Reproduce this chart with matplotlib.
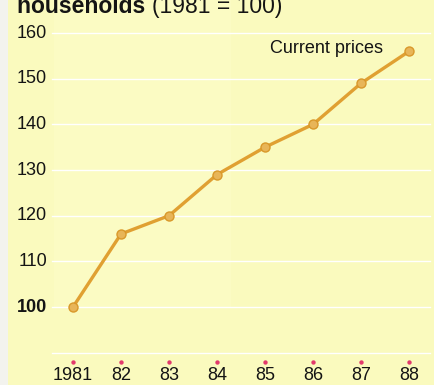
import matplotlib
matplotlib.use("Agg")
import matplotlib.pyplot as plt

# spending index, 1981 = 100
years = [1981, 1982, 1983, 1984, 1985, 1986, 1987, 1988]
year_labels = ["1981", "82", "83", "84", "85", "86", "87", "88"]
index_values = [100, 116, 120, 129, 135, 140, 149, 156]
grid_levels = [90, 100, 110, 120, 130, 140, 150, 160]
tick_labels = ["", "100", "110", "120", "130", "140", "150", "160"]

plt.rcParams["font.family"] = ["Liberation Sans", "DejaVu Sans"]

fig = plt.figure(figsize=(4.35, 3.85), dpi=100, facecolor="#f3f3ee")
ax = fig.add_axes([8 / 435, 0, 427 / 435, 1])
ax.set_facecolor("#fafabe")
ax.set_xlim(1979.646, 1988.54)
ax.set_ylim(82.92, 167.23)
for s in ax.spines.values():
    s.set_visible(False)
ax.set_xticks([])
ax.set_yticks([])

# slightly lighter panel behind the line
ax.axvspan(1980.6, 1984.3, ymin=0.2, ymax=1, color="#fbfbc3", zorder=0, lw=0)

for lv, lab in zip(grid_levels, tick_labels):
    ax.plot([1980.56, 1988.44], [lv, lv], color="white", lw=1.0, zorder=1)
    if lab:
        ax.text(1980.46, lv, lab, ha="right", va="center", fontsize=13,
                fontweight="bold" if lab == "100" else "normal", color="#141414")

ax.plot(years, index_values, color="#e0a032", lw=2.4, marker="o", ms=6.5,
        mfc="#e8b558", mec="#d9982a", mew=1.0, zorder=3)

# small red markers over the year labels
ax.scatter(years, [88] * len(years), s=10, color="#e23a6c", zorder=3, lw=0)
for yr, lab in zip(years, year_labels):
    ax.text(yr, 85.1, lab, ha="center", va="center", fontsize=13, color="#141414")

ax.text(1987.45, 156.5, "Current prices", ha="right", va="center",
        fontsize=13, color="#141414")

t1 = fig.text(17 / 435, 1 - 13 / 385, "households ", ha="left", va="baseline",
              fontsize=16.5, fontweight="bold", color="#141414")
fig.canvas.draw()
bb = t1.get_window_extent(fig.canvas.get_renderer())
fig.text(bb.x1 / fig.bbox.width, 1 - 13 / 385, "(1981 = 100)", ha="left",
         va="baseline", fontsize=16.5, color="#141414")

fig.savefig("out.png", dpi=100, facecolor=fig.get_facecolor())
